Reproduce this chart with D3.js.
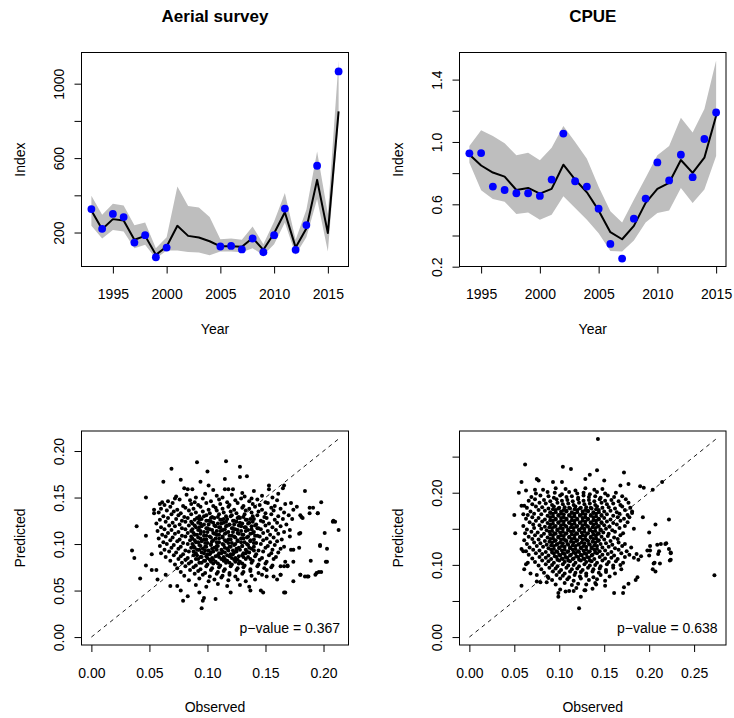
<!DOCTYPE html>
<html>
<head>
<meta charset="utf-8">
<script src="https://cdn.jsdelivr.net/npm/d3@7"></script>
<style>
body { margin: 0; background: #fff; }
text { font-family: "Liberation Sans", Arial, Helvetica, sans-serif; }
</style>
</head>
<body>
<script>
// ---- time series ----
var aerialYears = [1993,1994,1995,1996,1997,1998,1999,2000,2001,2002,2003,2004,2005,2006,2007,2008,2009,2010,2011,2012,2013,2014,2015,2016];
var aerialObs  = [326,220,300,283,146,186,67,119,null,null,null,null,125,128,109,168,94,186,329,107,240,559,null,1066];
var aerialPred = [318,218,272,265,161,182,80,125,236,182,173,153,126,126,123,171,107,196,309,120,222,483,197,851];
var aerialLow  = [236,168,214,205,116,134,60,103,103,96,92,78,98,98,94,116,78,137,254,80,175,380,98,800];
var aerialHigh = [397,295,354,345,239,254,116,175,448,343,335,283,164,168,161,232,137,259,412,161,322,636,300,1125];

var cpueYears = [1994,1995,1996,1997,1998,1999,2000,2001,2002,2003,2004,2005,2006,2007,2008,2009,2010,2011,2012,2013,2014,2015];
var cpueObs  = [.927,.929,.714,.692,.671,.671,.654,.759,1.054,.748,.714,.572,.346,.252,.508,.637,.869,.753,.918,.774,1.019,1.189];
var cpuePred = [.920,.849,.804,.778,.692,.705,.669,.699,.854,.759,.677,.561,.421,.376,.462,.609,.699,.738,.884,.802,.899,1.168];
var cpueLow  = [.867,.690,.634,.617,.538,.548,.501,.533,.652,.576,.501,.415,.301,.297,.368,.484,.544,.561,.705,.609,.695,.910];
var cpueHigh = [.974,1.075,1.039,.991,.914,.931,.882,.963,1.103,1.0,.892,.712,.555,.484,.630,.770,.914,.974,1.155,1.060,1.211,1.523];

// ---- ticks ----
var yearTicks = [1995,2000,2005,2010,2015];
var aerialIndexTicks = [200,400,600,800,1000];
var aerialIndexLabels = [200,600,1000];
var cpueIndexTicks = [0.2,0.4,0.6,0.8,1.0,1.2,1.4];
var cpueIndexLabels = [0.2,0.6,1.0,1.4];
var fitTicksA = [0,0.05,0.1,0.15,0.2];
var fitTicksB = [0,0.05,0.1,0.15,0.2,0.25];
var fitLabelsBy = [0,0.1,0.2];
var aerialP = "0.367";
var cpueP = "0.638";

// ---- observed vs predicted, [observed, predicted] ----
var aerialFit = [
[.091,.188],[.116,.189],[.069,.181],[.128,.183],[.100,.178],[.115,.170],[.077,.169],[.134,.173],[.128,.172],[.094,.167],[.062,.167],[.101,.163],[.083,.159],[.087,.159],[.080,.160],[.115,.159],[.118,.159],[.122,.159],[.153,.163],[.153,.159],[.140,.157],[.165,.160],[.166,.163],[.184,.157],[.105,.158],[.130,.155],[.161,.154],[.047,.150],[.072,.149],[.061,.145],[.059,.143],[.198,.145],[.191,.139],[.188,.133],[.195,.133],[.174,.137],[.177,.140],[.054,.137],[.054,.133],[.181,.129],[.208,.124],[.210,.124],[.213,.115],[.201,.112],[.180,.112],[.039,.119],[.047,.109],[.171,.115],[.197,.098],[.203,.095],[.179,.096],[.174,.094],[.189,.082],[.202,.081],[.198,.070],[.194,.069],[.187,.065],[.184,.065],[.180,.067],[.174,.060],[.166,.048],[.137,.050],[.146,.050],[.148,.048],[.120,.048],[.107,.041],[.097,.042],[.096,.039],[.095,.031],[.079,.039],[.093,.048],[.083,.044],[.077,.050],[.068,.055],[.074,.055],[.035,.093],[.037,.085],[.042,.063],[.047,.077],[.052,.072],[.056,.072],[.052,.089],[.057,.062],[.064,.067],[.157,.065],[.151,.065],[.163,.067],[.169,.076],[.163,.076],[.174,.081],
[.172,.144],[.188,.139],[.195,.133],[.180,.131],[.182,.128],[.173,.127],[.2085,.125],[.179,.111],[.171,.108],[.197,.099],[.172,.094],[.203,.081],[.167,.081],[.169,.077],[.166,.076],[.196,.070],[.193,.067],[.186,.065],[.180,.067],[.167,.048],[.163,.067],[.160,.062],
[.073,.151],[.082,.153],[.090,.150],[.098,.154],[.108,.152],[.113,.150],[.121,.153],[.132,.151],[.138,.149],[.147,.152],[.156,.150],
[.066,.146],[.076,.148],[.085,.147],[.089,.145],[.096,.149],[.103,.146],[.110,.148],[.117,.145],[.124,.147],[.129,.149],[.136,.146],[.143,.148],[.150,.145],[.160,.147],
[.063,.142],[.070,.144],[.079,.141],[.086,.143],[.092,.142],[.099,.144],[.105,.141],[.111,.143],[.119,.142],[.126,.144],[.131,.141],[.139,.143],[.145,.142],[.152,.144],[.158,.141],[.167,.143],
[.060,.138],[.068,.140],[.074,.137],[.081,.139],[.088,.138],[.094,.140],[.101,.137],[.107,.139],[.113,.138],[.118,.140],[.123,.137],[.130,.139],[.136,.138],[.141,.140],[.147,.137],[.155,.139],[.163,.138],
[.058,.134],[.065,.136],[.071,.135],[.077,.133],[.084,.136],[.090,.134],[.096,.135],[.102,.133],[.108,.136],[.114,.134],[.120,.135],[.125,.133],[.133,.136],[.138,.134],[.144,.135],[.150,.133],[.157,.136],[.166,.134],
[.062,.130],[.069,.132],[.075,.131],[.080,.129],[.086,.132],[.093,.130],[.099,.131],[.104,.129],[.110,.132],[.116,.130],[.121,.131],[.127,.129],[.132,.132],[.139,.130],[.143,.131],[.149,.129],[.155,.132],[.161,.130],[.170,.131],
[.059,.126],[.066,.128],[.073,.127],[.078,.125],[.083,.128],[.089,.126],[.095,.127],[.101,.125],[.106,.128],[.112,.126],[.117,.127],[.123,.125],[.128,.128],[.134,.126],[.140,.127],[.146,.125],[.151,.128],[.158,.126],[.165,.127],
[.056,.122],[.064,.124],[.070,.123],[.076,.121],[.081,.124],[.087,.122],[.092,.123],[.097,.121],[.103,.124],[.109,.122],[.114,.123],[.119,.121],[.125,.124],[.130,.122],[.136,.123],[.142,.121],[.148,.124],[.153,.122],[.160,.123],[.168,.121],
[.060,.118],[.067,.120],[.072,.119],[.078,.117],[.084,.120],[.090,.118],[.095,.119],[.100,.117],[.106,.120],[.111,.118],[.116,.119],[.122,.117],[.127,.120],[.133,.118],[.138,.119],[.144,.117],[.150,.120],[.156,.118],[.163,.119],
[.057,.114],[.063,.116],[.069,.115],[.075,.113],[.081,.116],[.086,.114],[.092,.115],[.097,.113],[.102,.116],[.108,.114],[.113,.115],[.118,.113],[.124,.116],[.129,.114],[.135,.115],[.140,.113],[.146,.116],[.152,.114],[.159,.115],[.166,.113],
[.061,.110],[.066,.112],[.072,.111],[.078,.109],[.083,.112],[.089,.110],[.094,.111],[.099,.109],[.105,.112],[.110,.110],[.115,.111],[.121,.109],[.126,.112],[.131,.110],[.137,.111],[.143,.109],[.148,.112],[.154,.110],[.161,.111],
[.058,.106],[.064,.108],[.070,.107],[.076,.105],[.081,.108],[.087,.106],[.092,.107],[.097,.105],[.102,.108],[.107,.106],[.113,.107],[.118,.105],[.123,.108],[.129,.106],[.134,.107],[.140,.105],[.145,.108],[.151,.106],[.157,.107],[.164,.105],
[.062,.102],[.068,.104],[.074,.103],[.079,.101],[.085,.104],[.090,.102],[.095,.103],[.100,.101],[.105,.104],[.110,.102],[.116,.103],[.121,.101],[.126,.104],[.132,.102],[.137,.103],[.142,.101],[.148,.104],[.154,.102],[.160,.103],
[.059,.098],[.065,.100],[.071,.099],[.077,.097],[.083,.100],[.088,.098],[.093,.099],[.098,.097],[.103,.100],[.108,.098],[.114,.099],[.119,.097],[.124,.100],[.130,.098],[.135,.099],[.140,.097],[.146,.100],[.152,.098],[.158,.099],[.166,.097],
[.063,.094],[.069,.096],[.075,.095],[.081,.093],[.086,.096],[.091,.094],[.096,.095],[.101,.093],[.106,.096],[.112,.094],[.117,.095],[.122,.093],[.127,.096],[.133,.094],[.138,.095],[.144,.093],[.150,.096],[.156,.094],[.163,.095],
[.060,.090],[.067,.092],[.073,.091],[.079,.089],[.084,.092],[.090,.090],[.095,.091],[.100,.089],[.105,.092],[.110,.090],[.115,.091],[.120,.089],[.125,.092],[.131,.090],[.136,.091],[.142,.089],[.148,.092],[.155,.090],[.161,.091],
[.064,.086],[.071,.088],[.077,.087],[.083,.085],[.088,.088],[.094,.086],[.099,.087],[.104,.085],[.109,.088],[.114,.086],[.119,.087],[.124,.085],[.130,.088],[.135,.086],[.141,.087],[.147,.085],[.153,.088],[.159,.086],
[.068,.082],[.075,.084],[.081,.083],[.086,.081],[.092,.084],[.097,.082],[.102,.083],[.107,.081],[.112,.084],[.117,.082],[.123,.083],[.128,.081],[.133,.084],[.139,.082],[.145,.083],[.151,.081],[.157,.084],
[.072,.078],[.078,.080],[.084,.079],[.090,.077],[.095,.080],[.100,.078],[.105,.079],[.111,.077],[.116,.080],[.121,.078],[.127,.079],[.132,.077],[.138,.080],[.144,.078],[.150,.079],[.156,.077],
[.074,.074],[.081,.076],[.088,.075],[.094,.073],[.099,.076],[.104,.074],[.110,.075],[.115,.073],[.120,.076],[.126,.074],[.131,.075],[.137,.073],[.143,.076],[.149,.074],[.155,.075],
[.077,.070],[.085,.072],[.092,.071],[.098,.069],[.103,.072],[.109,.070],[.114,.071],[.119,.069],[.125,.072],[.131,.070],[.137,.071],[.144,.069],[.151,.072],
[.080,.066],[.089,.068],[.096,.067],[.102,.065],[.108,.068],[.113,.066],[.119,.067],[.124,.065],[.130,.068],[.138,.066],[.147,.067],
[.084,.061],[.093,.063],[.101,.060],[.106,.062],[.112,.064],[.118,.061],[.126,.062],[.133,.060],[.141,.062],
[.090,.056],[.099,.054],[.109,.057],[.117,.055],[.128,.056],[.136,.054],
[.091,.128],[.097,.130],[.103,.128],[.109,.129],[.114,.127],[.120,.130],[.126,.128],[.131,.129],[.137,.127],
[.086,.124],[.093,.126],[.099,.125],[.105,.123],[.111,.126],[.116,.124],[.122,.125],[.128,.123],[.133,.126],[.139,.124],
[.089,.120],[.094,.122],[.101,.121],[.107,.119],[.112,.122],[.117,.120],[.123,.121],[.129,.119],[.135,.122],[.141,.120],
[.087,.116],[.093,.118],[.099,.117],[.104,.115],[.110,.118],[.115,.116],[.121,.117],[.126,.115],[.132,.118],[.138,.116],[.143,.117],
[.088,.112],[.094,.114],[.100,.113],[.106,.111],[.111,.114],[.116,.112],[.122,.113],[.127,.111],[.133,.114],[.139,.112],
[.086,.108],[.091,.110],[.097,.109],[.103,.107],[.108,.110],[.113,.108],[.119,.109],[.124,.107],[.130,.110],[.135,.108],[.141,.109],
[.089,.104],[.094,.106],[.099,.105],[.104,.103],[.110,.106],[.115,.104],[.120,.105],[.126,.103],[.131,.106],[.137,.104],
[.087,.100],[.092,.102],[.098,.101],[.103,.099],[.108,.102],[.113,.100],[.118,.101],[.123,.099],[.129,.102],[.134,.100],[.140,.101],
[.089,.096],[.094,.098],[.099,.097],[.104,.095],[.109,.098],[.115,.096],[.120,.097],[.125,.095],[.130,.098],[.136,.096],
[.088,.092],[.093,.094],[.098,.093],[.103,.091],[.108,.094],[.113,.092],[.118,.093],[.123,.091],[.128,.094],[.134,.092],[.140,.093],
[.091,.088],[.097,.090],[.102,.089],[.107,.087],[.112,.090],[.117,.088],[.122,.089],[.127,.087],[.133,.090],
[.090,.084],[.095,.086],[.100,.085],[.105,.083],[.110,.086],[.115,.084],[.121,.085],[.126,.083],[.131,.086],[.137,.084],
[.093,.080],[.098,.082],[.103,.081],[.109,.079],[.114,.082],[.119,.080],[.124,.081],[.130,.079]
];

var cpueFit = [
[.143,.2745],[.062,.239],[.104,.236],[.113,.233],[.142,.231],[.172,.228],[.075,.219],[.077,.217],[.058,.215],[.093,.215],[.103,.215],[.134,.225],[.129,.219],[.150,.217],[.177,.212],[.168,.210],[.190,.209],[.194,.207],[.204,.204],[.2144,.2148],[.055,.200],[.063,.203],[.073,.204],[.050,.169],[.060,.170],[.058,.182],[.061,.182],[.222,.163],[.193,.166],[.207,.156],[.051,.144],[.058,.122],[.060,.119],[.209,.128],[.213,.129],[.218,.129],[.201,.126],[.222,.122],[.224,.116],[.223,.106],[.210,.115],[.198,.120],[.201,.120],[.191,.112],[.188,.107],[.205,.102],[.212,.102],[.204,.094],[.207,.091],[.2726,.0856],[.187,.083],[.185,.079],[.177,.074],[.172,.069],[.171,.061],[.161,.061],[.151,.071],[.141,.073],[.129,.065],[.124,.056],[.122,.040],[.116,.064],[.107,.063],[.099,.061],[.099,.056],[.058,.071],[.075,.077],[.079,.076],[.086,.076],[.061,.094],[.063,.101],[.065,.103],[.088,.082],[.068,.088],[.075,.086],[.200,.145],[.219,.130],[.211,.119],[.224,.117],[.200,.113],[.206,.103],[.224,.107],[.181,.172],[.178,.166],[.183,.150],[.186,.115],[.183,.110],[.180,.124],
[.082,.204],[.096,.206],[.107,.205],[.118,.203],[.129,.206],[.139,.204],[.148,.205],
[.074,.199],[.087,.201],[.095,.200],[.103,.198],[.111,.201],[.120,.199],[.127,.200],[.134,.198],[.142,.201],[.151,.199],[.163,.200],
[.069,.194],[.079,.196],[.088,.195],[.094,.193],[.101,.196],[.108,.194],[.114,.195],[.121,.193],[.127,.196],[.133,.194],[.140,.195],[.146,.193],[.154,.196],[.161,.194],[.170,.195],
[.066,.189],[.073,.191],[.083,.190],[.090,.188],[.097,.191],[.103,.189],[.109,.190],[.115,.188],[.121,.191],[.127,.189],[.133,.190],[.139,.188],[.145,.191],[.151,.189],[.158,.190],[.166,.188],[.174,.191],
[.070,.184],[.078,.186],[.085,.185],[.092,.183],[.098,.186],[.104,.184],[.110,.185],[.116,.183],[.122,.186],[.128,.184],[.134,.185],[.140,.183],[.147,.186],[.153,.184],[.160,.185],[.168,.183],[.177,.186],
[.064,.179],[.074,.181],[.081,.180],[.088,.178],[.094,.181],[.100,.179],[.106,.180],[.112,.178],[.118,.181],[.124,.179],[.130,.180],[.136,.178],[.142,.181],[.148,.179],[.155,.180],[.162,.178],[.170,.181],[.179,.179],
[.068,.174],[.077,.176],[.084,.175],[.090,.173],[.096,.176],[.102,.174],[.108,.175],[.114,.173],[.120,.176],[.126,.174],[.132,.175],[.138,.173],[.144,.176],[.150,.174],[.157,.175],[.164,.173],[.173,.176],[.181,.174],
[.065,.169],[.072,.171],[.080,.170],[.087,.168],[.093,.171],[.099,.169],[.105,.170],[.111,.168],[.117,.171],[.123,.169],[.129,.170],[.135,.168],[.141,.171],[.147,.169],[.153,.170],[.160,.168],[.167,.171],[.176,.169],
[.063,.164],[.070,.166],[.077,.165],[.084,.163],[.090,.166],[.096,.164],[.102,.165],[.108,.163],[.114,.166],[.120,.164],[.126,.165],[.132,.163],[.138,.166],[.144,.164],[.150,.165],[.157,.163],[.165,.166],[.172,.164],
[.067,.159],[.074,.161],[.081,.160],[.087,.158],[.093,.161],[.099,.159],[.105,.160],[.111,.158],[.117,.161],[.123,.159],[.129,.160],[.135,.158],[.141,.161],[.147,.159],[.153,.160],[.160,.158],[.168,.161],[.176,.159],
[.060,.154],[.071,.156],[.078,.155],[.084,.153],[.090,.156],[.096,.154],[.102,.155],[.108,.153],[.114,.156],[.120,.154],[.126,.155],[.132,.153],[.138,.156],[.144,.154],[.150,.155],[.156,.153],[.164,.156],[.173,.154],
[.064,.149],[.072,.151],[.080,.150],[.086,.148],[.092,.151],[.098,.149],[.104,.150],[.110,.148],[.116,.151],[.122,.149],[.128,.150],[.134,.148],[.140,.151],[.146,.149],[.152,.150],[.159,.148],[.167,.151],
[.062,.144],[.069,.146],[.076,.145],[.083,.143],[.089,.146],[.095,.144],[.101,.145],[.107,.143],[.113,.146],[.119,.144],[.125,.145],[.131,.143],[.137,.146],[.143,.144],[.149,.145],[.155,.143],[.162,.146],[.171,.144],
[.066,.139],[.073,.141],[.080,.140],[.087,.138],[.093,.141],[.099,.139],[.105,.140],[.111,.138],[.117,.141],[.123,.139],[.129,.140],[.135,.138],[.141,.141],[.147,.139],[.154,.140],[.161,.138],[.168,.141],
[.061,.134],[.070,.136],[.077,.135],[.084,.133],[.090,.136],[.096,.134],[.102,.135],[.108,.133],[.114,.136],[.120,.134],[.126,.135],[.132,.133],[.138,.136],[.144,.134],[.150,.135],[.157,.133],[.165,.136],
[.064,.129],[.072,.131],[.079,.130],[.086,.128],[.092,.131],[.098,.129],[.104,.130],[.110,.128],[.116,.131],[.122,.129],[.128,.130],[.134,.128],[.140,.131],[.146,.129],[.152,.130],[.159,.128],[.166,.131],[.173,.129],
[.067,.124],[.075,.126],[.082,.125],[.088,.123],[.094,.126],[.100,.124],[.106,.125],[.112,.123],[.118,.126],[.124,.124],[.130,.125],[.136,.123],[.142,.126],[.148,.124],[.155,.125],[.162,.123],[.170,.126],
[.063,.119],[.071,.121],[.078,.120],[.085,.118],[.091,.121],[.097,.119],[.103,.120],[.109,.118],[.115,.121],[.121,.119],[.127,.120],[.133,.118],[.139,.121],[.145,.119],[.151,.120],[.158,.118],[.166,.121],[.175,.119],
[.066,.114],[.074,.116],[.081,.115],[.088,.113],[.094,.116],[.100,.114],[.106,.115],[.112,.113],[.118,.116],[.124,.114],[.130,.115],[.136,.113],[.142,.116],[.148,.114],[.154,.115],[.161,.113],[.169,.116],[.178,.114],
[.070,.109],[.078,.111],[.085,.110],[.091,.108],[.097,.111],[.103,.109],[.109,.110],[.115,.108],[.121,.111],[.127,.109],[.133,.110],[.139,.108],[.145,.111],[.151,.109],[.158,.110],[.165,.108],[.173,.111],
[.073,.104],[.081,.106],[.088,.105],[.094,.103],[.100,.106],[.106,.104],[.112,.105],[.118,.103],[.124,.106],[.130,.104],[.136,.105],[.142,.103],[.148,.106],[.155,.104],[.163,.105],[.171,.103],
[.077,.099],[.085,.101],[.092,.100],[.098,.098],[.104,.101],[.110,.099],[.116,.100],[.122,.098],[.128,.101],[.134,.099],[.140,.100],[.146,.098],[.153,.101],[.160,.099],[.168,.100],
[.080,.094],[.089,.096],[.096,.095],[.102,.093],[.108,.096],[.114,.094],[.120,.095],[.126,.093],[.132,.096],[.138,.094],[.145,.095],[.152,.093],[.160,.096],[.169,.094],
[.083,.089],[.093,.091],[.100,.090],[.106,.088],[.112,.091],[.118,.089],[.124,.090],[.130,.088],[.137,.091],[.144,.089],[.152,.090],[.162,.088],
[.087,.084],[.097,.086],[.104,.085],[.111,.083],[.117,.086],[.123,.084],[.130,.085],[.138,.083],[.146,.086],[.156,.084],
[.092,.079],[.101,.081],[.109,.080],[.116,.078],[.124,.081],[.133,.079],[.142,.080],[.151,.078],
[.096,.073],[.106,.075],[.114,.072],[.121,.074],[.130,.073],[.140,.075],
[.101,.066],[.111,.064],[.119,.068],[.128,.065],[.137,.067],
[.093,.177],[.099,.178],[.105,.176],[.111,.179],[.117,.177],[.123,.178],[.129,.176],[.135,.179],[.141,.177],
[.090,.172],[.096,.173],[.102,.171],[.108,.174],[.114,.172],[.120,.173],[.126,.171],[.132,.174],[.138,.172],[.144,.173],
[.093,.167],[.099,.168],[.105,.166],[.111,.169],[.117,.167],[.123,.168],[.129,.166],[.135,.169],[.141,.167],[.147,.168],
[.090,.162],[.096,.163],[.102,.161],[.108,.164],[.114,.162],[.120,.163],[.126,.161],[.132,.164],[.138,.162],[.144,.163],
[.093,.157],[.099,.158],[.105,.156],[.111,.159],[.117,.157],[.123,.158],[.129,.156],[.135,.159],[.141,.157],[.147,.158],
[.089,.152],[.095,.153],[.101,.151],[.107,.154],[.113,.152],[.119,.153],[.125,.151],[.131,.154],[.137,.152],[.143,.153],
[.092,.147],[.098,.148],[.104,.146],[.110,.149],[.116,.147],[.122,.148],[.128,.146],[.134,.149],[.140,.147],[.146,.148],
[.090,.142],[.096,.143],[.102,.141],[.108,.144],[.114,.142],[.120,.143],[.126,.141],[.132,.144],[.138,.142],[.144,.143],
[.093,.137],[.099,.138],[.105,.136],[.111,.139],[.117,.137],[.123,.138],[.129,.136],[.135,.139],[.141,.137],
[.089,.132],[.095,.133],[.101,.131],[.107,.134],[.113,.132],[.119,.133],[.125,.131],[.131,.134],[.137,.132],[.143,.133],
[.091,.127],[.097,.128],[.103,.126],[.109,.129],[.115,.127],[.121,.128],[.127,.126],[.133,.129],[.139,.127],
[.094,.122],[.100,.123],[.106,.121],[.112,.124],[.118,.122],[.124,.123],[.130,.121],[.136,.124],[.142,.122],
[.092,.117],[.098,.118],[.104,.116],[.110,.119],[.116,.117],[.122,.118],[.128,.116],[.134,.119],[.140,.117],
[.095,.112],[.101,.113],[.107,.111],[.113,.114],[.119,.112],[.125,.113],[.131,.111],[.137,.114],
[.098,.107],[.104,.108],[.110,.106],[.116,.109],[.122,.107],[.128,.108],[.134,.106]
];

var width = 734;
var height = 718;

var svg = d3.select("body").append("svg")
    .attr("width", width)
    .attr("height", height);

// plot regions
var boxes = {
    aerial:  {x0: 81.5,  x1: 348.5, y0: 52.5, y1: 266.5},
    cpue:    {x0: 459.5, x1: 726,   y0: 52.5, y1: 266.5},
    aerialF: {x0: 81.5,  x1: 348.5, y0: 431,  y1: 645},
    cpueF:   {x0: 459.5, x1: 726,   y0: 431,  y1: 645}
};

// R style 4% extension of the data range
function pad(lo, hi) {
    var d = (hi - lo) * 0.04;
    return [lo - d, hi + d];
}

function onlyLabels(labels, fmt) {
    return function(d) {
        return labels.some(function(l) { return Math.abs(l - d) < 1e-9; }) ? fmt(d) : "";
    };
}

function drawAxes(b, x, y, xTicks, xFmt, yTicks, yFmt, xTitle, yTitle) {
    var gx = svg.append("g")
        .attr("transform", "translate(0," + b.y1 + ")")
        .call(d3.axisBottom(x).tickValues(xTicks).tickSize(7).tickPadding(16).tickFormat(xFmt));
    var gy = svg.append("g")
        .attr("transform", "translate(" + b.x0 + ",0)")
        .call(d3.axisLeft(y).tickValues(yTicks).tickSize(7).tickFormat(yFmt));
    [gx, gy].forEach(function(g) {
        g.select(".domain").remove();
        g.attr("font-size", 14).attr("font-family", null);
    });
    gy.selectAll(".tick text")
        .attr("transform", "rotate(-90)")
        .attr("x", 0)
        .attr("y", -18)
        .attr("dy", null)
        .attr("text-anchor", "middle");

    svg.append("text")
        .attr("x", (b.x0 + b.x1) / 2)
        .attr("y", b.y1 + 67)
        .attr("text-anchor", "middle")
        .attr("font-size", 14)
        .text(xTitle);
    svg.append("text")
        .attr("transform", "translate(" + (b.x0 - 57) + "," + ((b.y0 + b.y1) / 2) + ") rotate(-90)")
        .attr("text-anchor", "middle")
        .attr("font-size", 14)
        .text(yTitle);
}

function drawBox(b) {
    svg.append("rect")
        .attr("x", b.x0).attr("y", b.y0)
        .attr("width", b.x1 - b.x0).attr("height", b.y1 - b.y0)
        .attr("fill", "none").attr("stroke", "#000").attr("stroke-width", 1);
}

function drawSeries(b, title, years, obs, pred, low, high, yTicks, yLabels, yFmt) {
    var lo = d3.min(low.concat(obs.filter(function(v) { return v != null; })));
    var hi = d3.max(high.concat(obs.filter(function(v) { return v != null; })));
    var x = d3.scaleLinear().domain(pad(years[0], years[years.length - 1])).range([b.x0, b.x1]);
    var y = d3.scaleLinear().domain(pad(lo, hi)).range([b.y1, b.y0]);

    var band = d3.area()
        .x(function(d, i) { return x(years[i]); })
        .y0(function(d, i) { return y(low[i]); })
        .y1(function(d, i) { return y(high[i]); });
    svg.append("path").datum(years).attr("d", band).attr("fill", "#bebebe");

    var line = d3.line()
        .x(function(d, i) { return x(years[i]); })
        .y(function(d) { return y(d); });
    svg.append("path").datum(pred).attr("d", line)
        .attr("fill", "none").attr("stroke", "#000").attr("stroke-width", 2)
        .attr("stroke-linejoin", "round");

    svg.append("g").selectAll("circle")
        .data(years.filter(function(d, i) { return obs[i] != null; }))
        .enter().append("circle")
        .attr("cx", function(d) { return x(d); })
        .attr("cy", function(d) { return y(obs[years.indexOf(d)]); })
        .attr("r", 3.9)
        .attr("fill", "#0000ff");

    drawBox(b);
    drawAxes(b, x, y, yearTicks, d3.format("d"), yTicks, onlyLabels(yLabels, yFmt), "Year", "Index");

    svg.append("text")
        .attr("x", (b.x0 + b.x1) / 2)
        .attr("y", 22)
        .attr("text-anchor", "middle")
        .attr("font-size", 17)
        .attr("font-weight", "bold")
        .text(title);
}

function drawFit(b, pts, xTicks, yTicks, yLabels, pval) {
    var lim = d3.max(pts, function(d) { return Math.max(d[0], d[1]); });
    var x = d3.scaleLinear().domain(pad(0, lim)).range([b.x0, b.x1]);
    var y = d3.scaleLinear().domain(pad(0, lim)).range([b.y1, b.y0]);

    svg.append("g").selectAll("circle")
        .data(pts).enter().append("circle")
        .attr("cx", function(d) { return x(d[0]); })
        .attr("cy", function(d) { return y(d[1]); })
        .attr("r", 2)
        .attr("fill", "#000");

    svg.append("line")
        .attr("x1", x(0)).attr("y1", y(0))
        .attr("x2", x(lim)).attr("y2", y(lim))
        .attr("stroke", "#000").attr("stroke-width", 0.9)
        .attr("stroke-dasharray", "4,4");

    drawBox(b);
    var f = d3.format(".2f");
    drawAxes(b, x, y, xTicks, f, yTicks, onlyLabels(yLabels, f), "Observed", "Predicted");

    svg.append("text")
        .attr("x", b.x1 - 8.5)
        .attr("y", b.y1 - 12)
        .attr("text-anchor", "end")
        .attr("font-size", 14)
        .text("p\u2212value = " + pval);
}

drawSeries(boxes.aerial, "Aerial survey", aerialYears, aerialObs, aerialPred, aerialLow, aerialHigh,
    aerialIndexTicks, aerialIndexLabels, d3.format("d"));
drawSeries(boxes.cpue, "CPUE", cpueYears, cpueObs, cpuePred, cpueLow, cpueHigh,
    cpueIndexTicks, cpueIndexLabels, d3.format(".1f"));
drawFit(boxes.aerialF, aerialFit, fitTicksA, fitTicksA, fitTicksA, aerialP);
drawFit(boxes.cpueF, cpueFit, fitTicksB, fitTicksB, fitLabelsBy, cpueP);
</script>
</body>
</html>
